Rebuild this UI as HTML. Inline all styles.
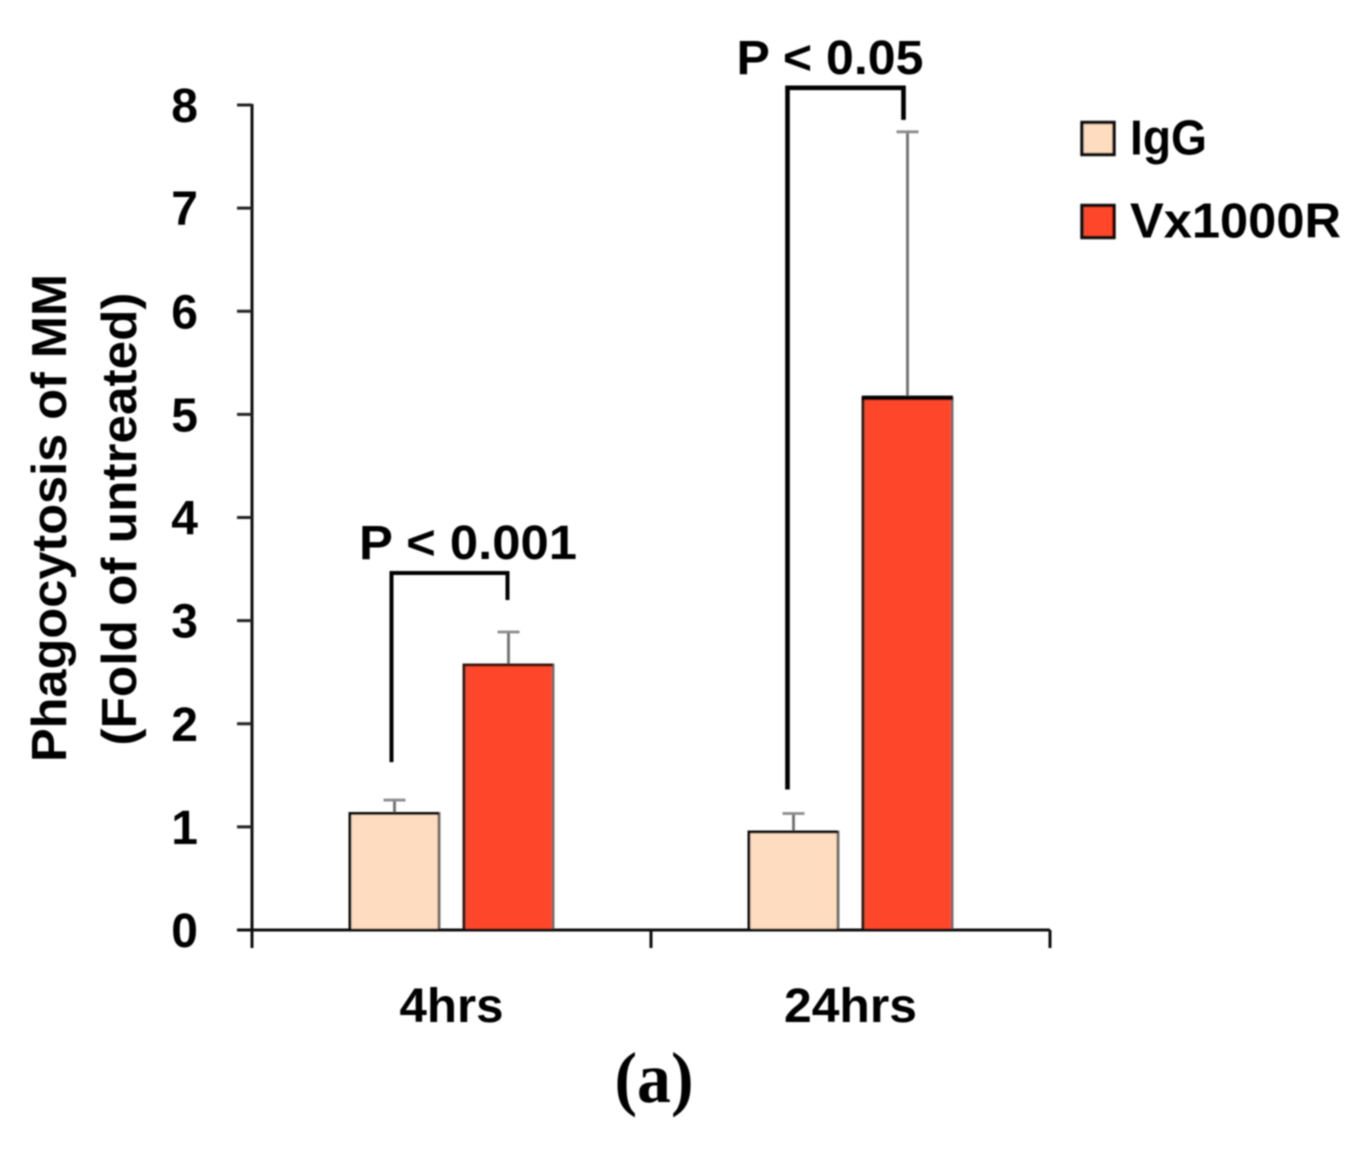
<!DOCTYPE html>
<html>
<head>
<meta charset="utf-8">
<style>
html,body{margin:0;padding:0;background:#fff;}
svg{display:block;}
text{font-family:"Liberation Sans",sans-serif;font-weight:bold;fill:#050505;}
</style>
</head>
<body>
<svg id="chart" width="1363" height="1150" viewBox="0 0 1363 1150" xmlns="http://www.w3.org/2000/svg">
<defs><filter id="soft" x="-5%" y="-5%" width="110%" height="110%"><feGaussianBlur stdDeviation="0.8"/></filter></defs>
<g id="root" filter="url(#soft)"></g>
</svg>
<script>
const categories = ["4hrs", "24hrs"];
const seriesNames = ["IgG", "Vx1000R"];
const seriesColors = ["#fedcc0", "#fe462b"];
const igGValues = [1.13, 0.95];
const vxValues = [2.57, 5.16];
const igGErrors = [0.13, 0.18];
const vxErrors = [0.32, 2.58];
const yTickLabels = [0, 1, 2, 3, 4, 5, 6, 7, 8];
const pLabels = ["P < 0.001", "P < 0.05"];

const NS = "http://www.w3.org/2000/svg";
const root = document.getElementById("root");
const plotLeft = 252, plotRight = 1050, plotBottom = 930, plotTop = 105, yMax = 8;
function yScale(v){ return plotBottom - (v / yMax) * (plotBottom - plotTop); }
function groupLeft(i){ return plotLeft + i * (plotRight - plotLeft) / categories.length; }
function groupCenter(i){ return groupLeft(i + 0.5); }
function barCenter(i, s){ return groupCenter(i) + (s === 0 ? -57 : 57); }

function make(tag, attrs, text){
  const el = document.createElementNS(NS, tag);
  for (const k in attrs) el.setAttribute(k, attrs[k]);
  if (text !== undefined) el.textContent = text;
  root.appendChild(el);
  return el;
}
function line(x1, y1, x2, y2, color, width){
  return make("line", {x1:x1, y1:y1, x2:x2, y2:y2, stroke:color, "stroke-width":width});
}

// y axis
let el = line(plotLeft, plotTop - 1, plotLeft, plotBottom + 1, "#111", 3);


yTickLabels.forEach(function(t){
  const y = yScale(t);
  const tick = line(plotLeft - 15, y, plotLeft, y, "#222", 3);
  
  
  const label = make("text", {x:198, y:y + 17, "text-anchor":"end", "font-size":48}, String(t));
  
  
});

// bars and error bars
const seriesValues = [igGValues, vxValues];
const seriesErrors = [igGErrors, vxErrors];
categories.forEach(function(cat, i){
  seriesValues.forEach(function(vals, s){
    const cx = barCenter(i, s);
    const top = yScale(vals[i]);
    const errTop = yScale(vals[i] + seriesErrors[s][i]);
    const stem = line(cx, errTop, cx, top, "#6e6e6e", 2.8);
    
    
    const cap = line(cx - 11, errTop, cx + 11, errTop, "#8c8c8c", 2.8);
    
    
    const left = cx - 44.5, right = cx + 44.5;
    const bar = make("rect", {x:left, y:top, width:89, height:plotBottom - top, fill:seriesColors[s], stroke:"#6f6f6f", "stroke-width":3});
    
    
    const edge = make("path", {d:"M" + left + " " + plotBottom + "V" + top + "H" + right, fill:"none", stroke:s === 0 ? "#111" : "#3a1410", "stroke-width":3});
    
    
    if (s === 1 && i === 1) {
      const cap2 = line(left - 1, top, right + 1, top, "#000", 4.4);
      
      
    }
  });
  const label = make("text", {x:groupCenter(i), y:1022, "text-anchor":"middle", "font-size":48, textLength:i === 0 ? 104 : 133, lengthAdjust:"spacingAndGlyphs"}, cat);
  
  
});

// x axis drawn over bar bases
el = line(plotLeft - 15, plotBottom, plotRight, plotBottom, "#111", 3);


[0, 1, 2].forEach(function(i){
  const x = groupLeft(i);
  const tick = line(x, plotBottom, x, plotBottom + 18, "#111", 3);
  
  
});

// significance brackets, anchored just above each group's error bars
categories.forEach(function(cat, i){
  const xL = barCenter(i, 0) - (i === 0 ? 3 : 6);
  const xR = barCenter(i, 1) - (i === 0 ? 1 : 4);
  const leftEnd = yScale(igGValues[i] + igGErrors[i]) - (i === 0 ? 38 : 24);
  const rightEnd = yScale(vxValues[i] + vxErrors[i]) - (i === 0 ? 32 : 12);
  const top = rightEnd - (i === 0 ? 27 : 32);
  const bracket = make("path", {d:"M" + xL + " " + leftEnd + "V" + top + "H" + xR + "V" + rightEnd, fill:"none", stroke:"#000", "stroke-width":i === 0 ? 4 : 4.6});
  
  
  const label = make("text", {x:i === 0 ? 468 : 830, y:top - 14, "text-anchor":"middle", "font-size":48, textLength:i === 0 ? 218 : 187, lengthAdjust:"spacingAndGlyphs"}, pLabels[i]);
  
  
});

// y axis title
el = make("text", {transform:"translate(66 518) rotate(-90)", "text-anchor":"middle", "font-size":49, textLength:488, lengthAdjust:"spacingAndGlyphs"}, "Phagocytosis of MM");


el = make("text", {transform:"translate(136 519) rotate(-90)", "text-anchor":"middle", "font-size":49, textLength:453, lengthAdjust:"spacingAndGlyphs"}, "(Fold of untreated)");



// legend
const legendY = [138.5, 221.5];
const legendWidth = [77, 211];
seriesNames.forEach(function(name, s){
  const sw = make("rect", {x:1082, y:legendY[s] - 16, width:32, height:32, fill:seriesColors[s], stroke:"#111", "stroke-width":3.4});
  
  
  const t = make("text", {x:1130, y:legendY[s] + 16, "font-size":49, textLength:legendWidth[s], lengthAdjust:"spacingAndGlyphs"}, name);
  
  
});

// panel label
el = make("text", {x:654, y:1102, "text-anchor":"middle", "font-size":72, textLength:79, lengthAdjust:"spacingAndGlyphs", style:"font-family:'Liberation Serif',serif"}, "(a)");


</script>
</body>
</html>
